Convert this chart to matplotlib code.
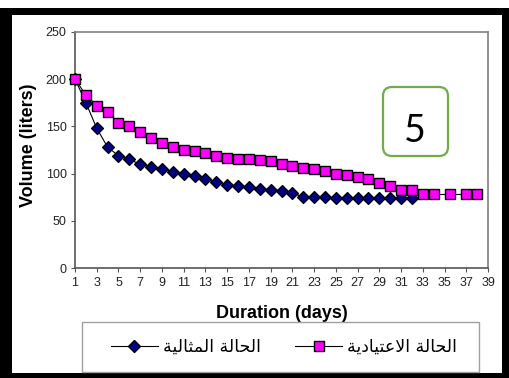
import matplotlib
matplotlib.use("Agg")
import matplotlib.pyplot as plt
from matplotlib.patches import Rectangle, FancyBboxPatch
from matplotlib.lines import Line2D

# data
days_ideal = list(range(1, 33))
vol_ideal = [200, 175, 148, 128, 119, 115, 110, 107, 105, 102, 100, 98, 94, 91, 88, 87,
             86, 84, 83, 82, 80, 75, 75, 75, 74, 74, 74, 74, 74, 74, 74, 74]

days_usual = list(range(1, 35)) + [35.5, 37, 38]
vol_usual = [200, 183, 172, 165, 154, 150, 144, 138, 132, 128, 125, 124, 122, 119, 117, 116,
             115, 114, 113, 110, 108, 106, 105, 103, 100, 98.5, 96, 94, 90, 87, 83, 83,
             78, 78, 78, 78, 78]

label_ideal = "الحالة المثالية"
label_usual = "الحالة الاعتيادية"
xticks = list(range(1, 40, 2))
yticks = [0, 50, 100, 150, 200, 250]

# crude arabic shaping (matplotlib draws glyphs left to right, unjoined)
FORMS = {
    'ا': ('\uFE8D', '\uFE8E', None, None),
    'ل': ('\uFEDD', '\uFEDE', '\uFEDF', '\uFEE0'),
    'ح': ('\uFEA1', '\uFEA2', '\uFEA3', '\uFEA4'),
    'ة': ('\uFE93', '\uFE94', None, None),
    'م': ('\uFEE1', '\uFEE2', '\uFEE3', '\uFEE4'),
    'ث': ('\uFE99', '\uFE9A', '\uFE9B', '\uFE9C'),
    'ي': ('\uFEF1', '\uFEF2', '\uFEF3', '\uFEF4'),
    'ع': ('\uFEC9', '\uFECA', '\uFECB', '\uFECC'),
    'ت': ('\uFE95', '\uFE96', '\uFE97', '\uFE98'),
    'د': ('\uFEA9', '\uFEAA', None, None),
}


def shape(s):
    out = []
    n = len(s)
    for i, c in enumerate(s):
        if c not in FORMS:
            out.append(c)
            continue
        prev = s[i - 1] if i > 0 else None
        nxt = s[i + 1] if i + 1 < n else None
        jp = prev in FORMS and FORMS[prev][2] is not None
        if c == 'ا' and prev == 'ل':
            continue
        if c == 'ل' and nxt == 'ا':
            out.append('\uFEFC' if jp else '\uFEFB')
            continue
        jn = nxt in FORMS and FORMS[c][2] is not None
        idx = {(False, False): 0, (True, False): 1, (False, True): 2, (True, True): 3}[(jp, jn)]
        out.append(FORMS[c][idx])
    return ''.join(reversed(out))


plt.rcParams['font.family'] = ['Liberation Sans', 'DejaVu Sans']

fig = plt.figure(figsize=(5.09, 3.78), dpi=100)
ax = fig.add_axes([75 / 509, 1 - 268.3 / 378, 413 / 509, 236.6 / 378])

ax.plot(days_ideal, vol_ideal, color='black', lw=0.8, marker='D', ms=6,
        mfc='#000080', mec='black', mew=0.9, clip_on=False, zorder=3)
ax.plot(days_usual, vol_usual, color='black', lw=0.8, marker='s', ms=7,
        mfc='#ff00ff', mec='black', mew=1.0, clip_on=False, zorder=4)

ax.set_xlim(1, 39)
ax.set_ylim(0, 250)
ax.set_xticks(xticks)
ax.set_yticks(yticks)
ax.tick_params(direction='out', length=3, width=0.8, color='#555555',
               labelsize=9, labelcolor='#222222', pad=3)
for sp in ax.spines.values():
    sp.set_color('#808080')
    sp.set_linewidth(1.2)
ax.spines['left'].set_color('#555555')
ax.spines['bottom'].set_color('#555555')

ax.set_xlabel('Duration (days)', fontsize=13, fontweight='bold')
ax.set_ylabel('Volume (liters)', fontsize=13, fontweight='bold')
ax.xaxis.set_label_coords(0.5, -0.19)
ax.xaxis.label.set_va('center')
ax.yaxis.set_label_coords(-0.112, 0.52)
ax.yaxis.label.set_va('center')

# legend (frame drawn separately)
h1 = Line2D([], [], color='black', lw=0.8, marker='D', ms=6, mfc='#000080', mec='black')
h2 = Line2D([], [], color='black', lw=0.8, marker='s', ms=7, mfc='#ff00ff', mec='black')
fig.legend([h1, h2], [shape(label_ideal), shape(label_usual)], loc='center',
           bbox_to_anchor=(284 / 509, 1 - 347 / 378), bbox_transform=fig.transFigure,
           ncol=2, frameon=False, handlelength=2.7, handletextpad=0.3,
           columnspacing=2.0, prop={'family': ['DejaVu Sans'], 'size': 12.5})

# panel number box
fig.add_artist(FancyBboxPatch((3.83, 2.22), 0.65, 0.69, transform=fig.dpi_scale_trans,
                              boxstyle='round,pad=0,rounding_size=0.09',
                              fc='white', ec='#70ad47', lw=1.6))
fig.text(4.15, 2.36, '5', transform=fig.dpi_scale_trans, ha='center', va='baseline',
         fontsize=27, family='Lato')

# outer black frame
for xy, w, h in [((0, 0), 0.12, 3.70), ((0, 3.63), 5.09, 0.07),
                 ((5.02, 0), 0.07, 3.70), ((0, 0), 5.09, 0.055)]:
    fig.add_artist(Rectangle(xy, w, h, transform=fig.dpi_scale_trans,
                             fc='black', ec='none'))

fig.add_artist(Rectangle((0.82, 0.065), 3.97, 0.495, transform=fig.dpi_scale_trans,
                         fill=False, ec='#a0a0a0', lw=1.0))

fig.savefig('out.png', dpi=100)
